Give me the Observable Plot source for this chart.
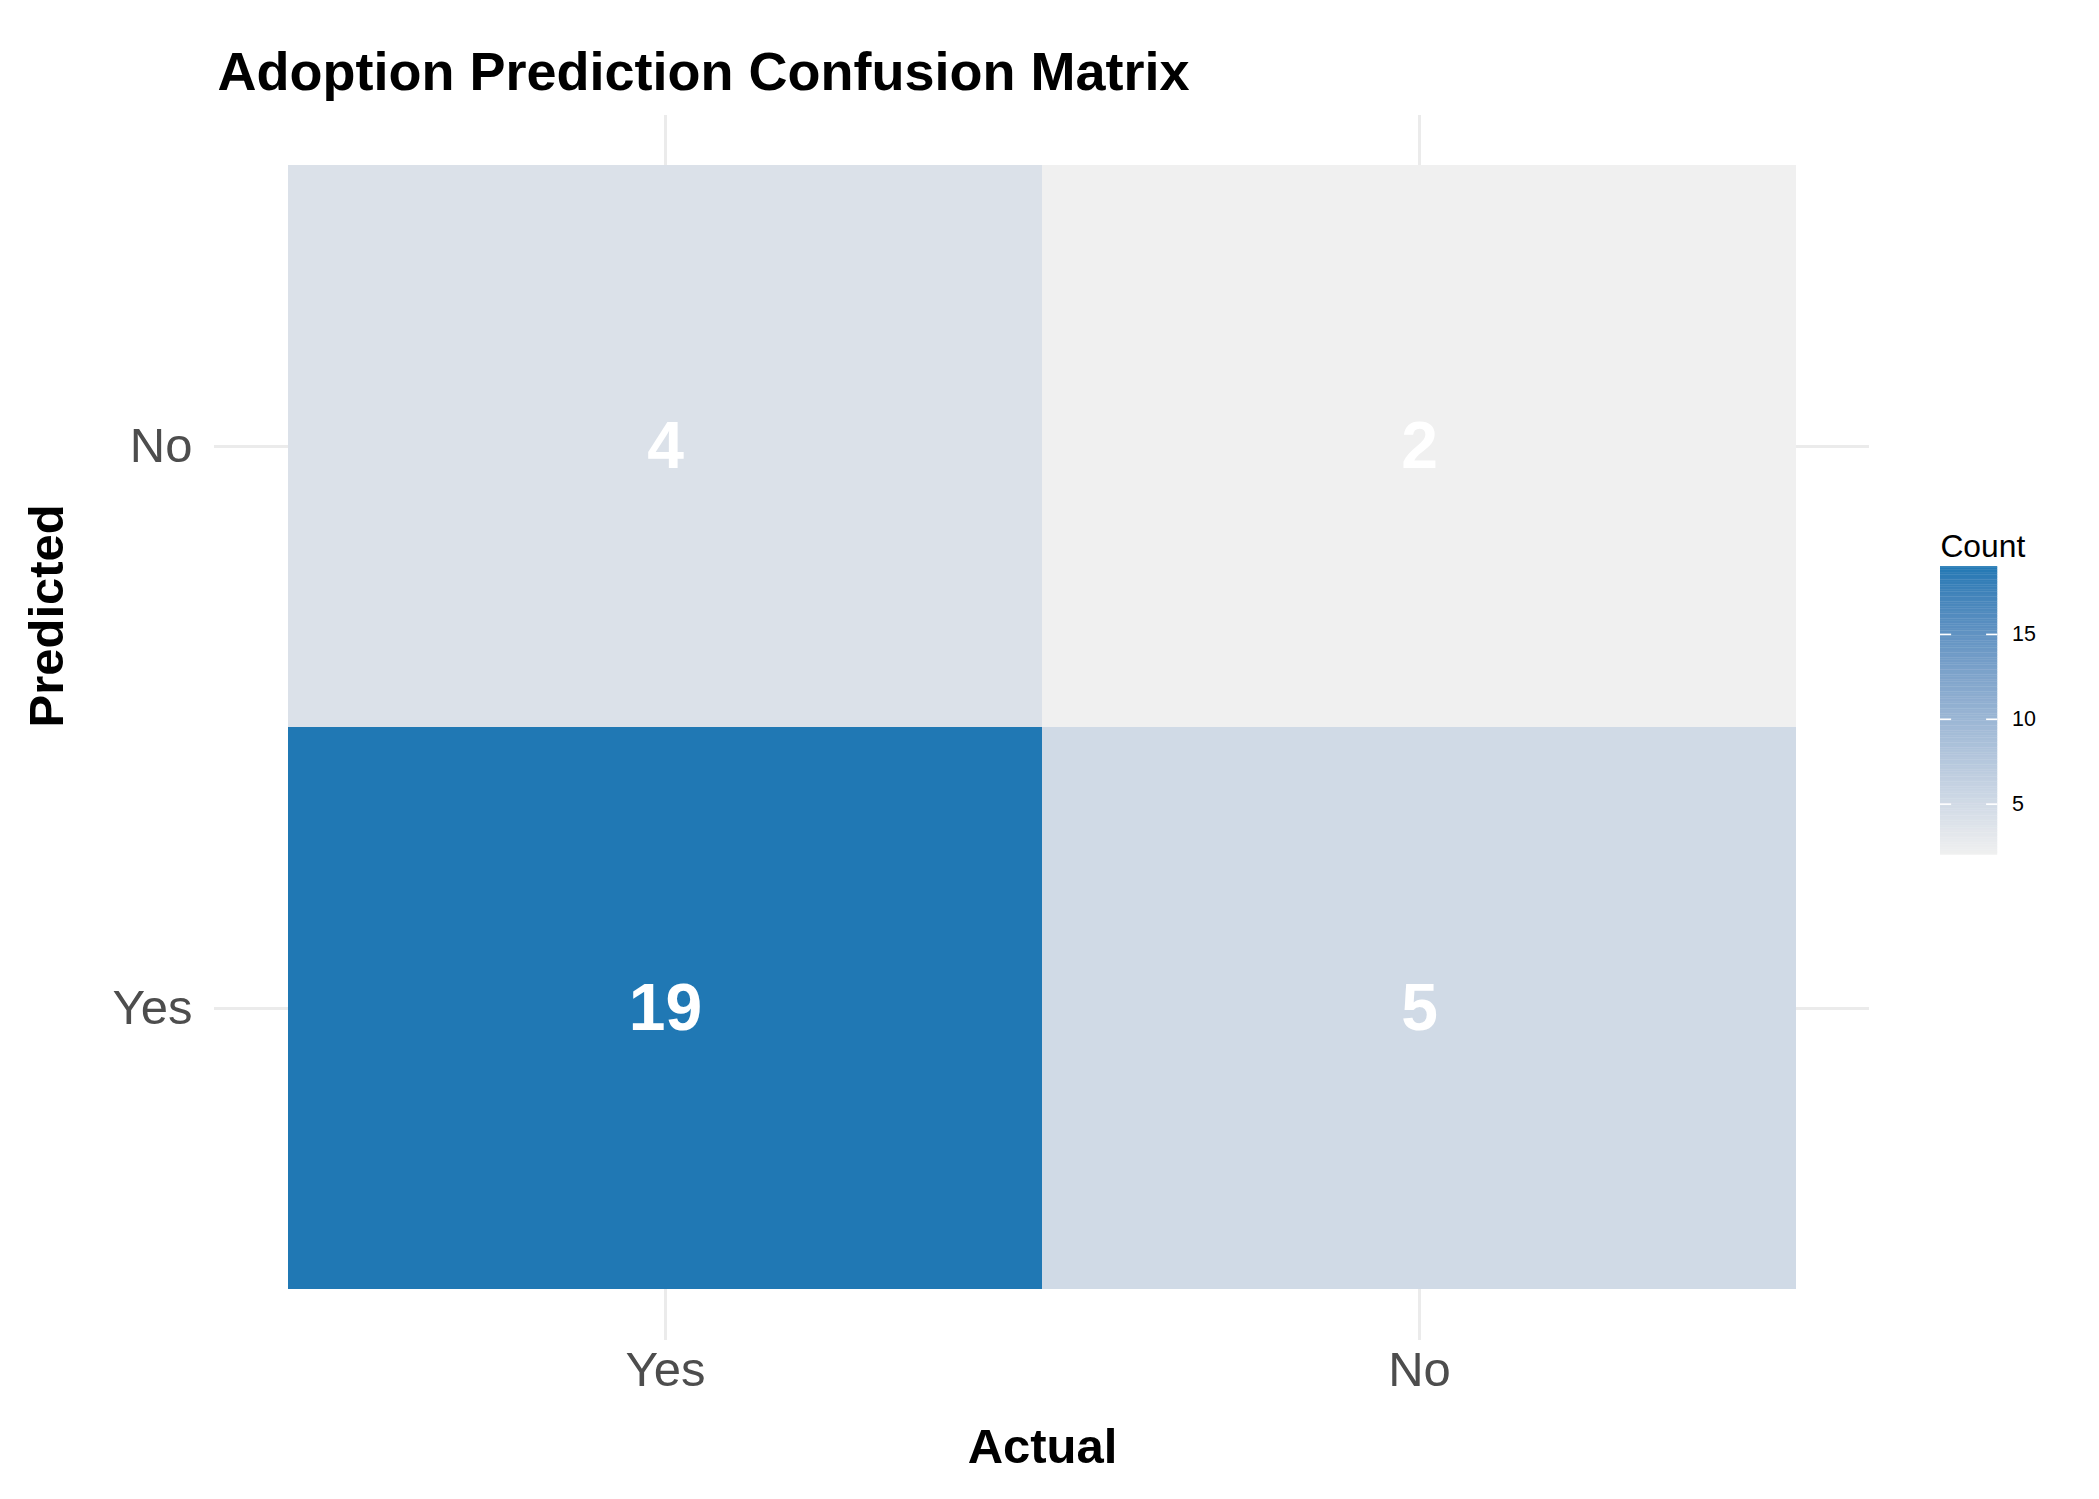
<!DOCTYPE html>
<html>
<head>
<meta charset="utf-8">
<script src="https://cdn.jsdelivr.net/npm/d3@7"></script>
<script src="https://cdn.jsdelivr.net/npm/@observablehq/plot@0.6"></script>
<style>
  body { margin: 0; background: white; font-family: "Liberation Sans", Arial, sans-serif; }
  #wrap { position: relative; width: 2099px; height: 1499px; }
  #legend { position: absolute; left: 1940px; top: 520px; }
</style>
</head>
<body>
<div id="wrap"><div id="chart"></div><div id="legend"></div></div>
<script>
// categorias y valores
const actual = ["Yes", "No"]
const predicted = ["No", "Yes"]
const cells = [
  {actual: "Yes", predicted: "No", count: 4},
  {actual: "No", predicted: "No", count: 2},
  {actual: "Yes", predicted: "Yes", count: 19},
  {actual: "No", predicted: "Yes", count: 5},
]
const legendTicks = [5, 10, 15]
const countDomain = [2, 19]
const colorRange = ["#f0f0f0", "#2078b4"]

let chart = Plot.plot({
  width: 2099,
  height: 1499,
  marginLeft: 288,
  marginRight: 303,
  marginTop: 165,
  marginBottom: 210,
  style: {fontFamily: "Liberation Sans, Arial, sans-serif", overflow: "visible"},
  x: {domain: actual, padding: 0},
  y: {domain: predicted, padding: 0},
  color: {type: "linear", domain: countDomain, range: colorRange, interpolate: "lab"},
  marks: [
    Plot.ruleX(actual, {x: d => d, stroke: "#ebebeb", strokeWidth: 3, insetTop: -50, insetBottom: -51}),
    Plot.ruleY(predicted, {y: d => d, stroke: "#ebebeb", strokeWidth: 3, insetLeft: -74, insetRight: -73}),
    Plot.cell(cells, {x: "actual", y: "predicted", fill: "count"}),
    Plot.text(cells, {x: "actual", y: "predicted", text: d => String(d.count), fill: "white", fontSize: 66, fontWeight: "bold"}),
    Plot.axisX({tickSize: 0, tickPadding: 62, fontSize: 49, color: "#4d4d4d", label: null}),
    Plot.axisY({tickSize: 0, tickPadding: 96, fontSize: 49, color: "#4d4d4d", label: null}),
    Plot.text(["Actual"], {frameAnchor: "bottom", dy: 173, fontSize: 49, fontWeight: "bold", fill: "black"}),
    Plot.text(["Predicted"], {frameAnchor: "left", dx: -241, rotate: -90, fontSize: 49, fontWeight: "bold", fill: "black"}),
    Plot.text(["Adoption Prediction Confusion Matrix"], {frameAnchor: "top-left", dx: -71, dy: -114, textAnchor: "start", fontSize: 54, fontWeight: "bold", fill: "black"}),
  ]
})
d3.select('#chart').append(() => chart)

// leyenda de color
const step = 0.1
const steps = d3.range(countDomain[0], countDomain[1], step)
let legend = Plot.plot({
  width: 200,
  height: 58 + 363 + 10,
  marginTop: 58,
  marginBottom: 10,
  marginLeft: 0,
  marginRight: 128,
  style: {fontFamily: "Liberation Sans, Arial, sans-serif", overflow: "visible"},
  y: {domain: countDomain},
  color: {type: "linear", domain: countDomain, range: colorRange, interpolate: "lab"},
  marks: [
    Plot.rect(steps, {y1: d => d, y2: d => Math.min(d + step + 0.02, countDomain[1]), fill: d => d + step / 2}),
    Plot.ruleY(legendTicks, {y: d => d, stroke: "white", strokeWidth: 2, insetRight: 58}),
    Plot.ruleY(legendTicks, {y: d => d, stroke: "white", strokeWidth: 2, insetLeft: 58}),
    Plot.axisY(legendTicks, {anchor: "right", tickSize: 0, tickPadding: 18, fontSize: 27, color: "black", label: null}),
    Plot.text(["Count"], {frameAnchor: "top-left", dy: -40, textAnchor: "start", fontSize: 40, fill: "black"}),
  ]
})
d3.select('#legend').append(() => legend)
</script>
</body>
</html>
